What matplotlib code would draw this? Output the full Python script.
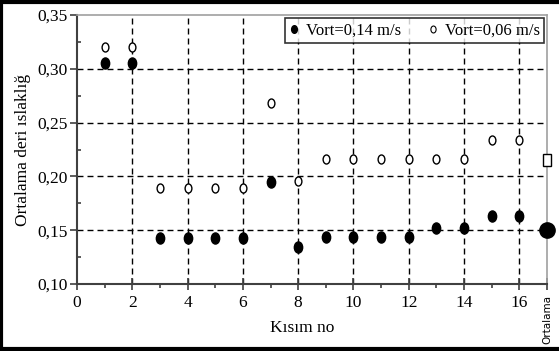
import matplotlib
matplotlib.use("Agg")
import matplotlib.pyplot as plt
from matplotlib.markers import MarkerStyle
from matplotlib.transforms import Affine2D
from matplotlib.lines import Line2D
import numpy as np

# data
kisim = [1, 2, 3, 4, 5, 6, 7, 8, 9, 10, 11, 12, 13, 14, 15, 16]
w_014 = [0.305, 0.305, 0.143, 0.143, 0.143, 0.143, 0.195, 0.134,
         0.144, 0.144, 0.144, 0.144, 0.152, 0.152, 0.163, 0.163]
w_006 = [0.320, 0.320, 0.189, 0.189, 0.189, 0.189, 0.268, 0.196,
         0.216, 0.216, 0.216, 0.216, 0.216, 0.216, 0.234, 0.234]
ort_x = 17
ort_014 = 0.150
ort_006 = 0.215

xticks = [0, 2, 4, 6, 8, 10, 12, 14, 16, 17]
xticklabels = ["0", "2", "4", "6", "8", "10", "12", "14", "16", "Ortalama"]
yticks = [0.10, 0.15, 0.20, 0.25, 0.30, 0.35]
yticklabels = ["0,10", "0,15", "0,20", "0,25", "0,30", "0,35"]

plt.rcParams['font.family'] = ['Liberation Serif', 'DejaVu Serif']

fig = plt.figure(figsize=(5.59, 3.51), dpi=100)
ax = fig.add_axes([77/559, 1 - 284/351, 470/559, 269/351])

ell = MarkerStyle('o', transform=Affine2D().scale(0.75, 1.0))
box = MarkerStyle('s', transform=Affine2D().scale(0.75, 1.0))

# grid (inner lines only)
for v in xticks[1:-1]:
    ax.axvline(v, color='black', lw=1.0, dashes=(4.3, 2.9), zorder=1)
for v in yticks[1:-1]:
    ax.axhline(v, color='black', lw=1.0, dashes=(4.3, 2.9), zorder=1)

ax.plot(kisim, w_014, ls='none', marker=ell, ms=8, color='black', zorder=3)
ax.plot(kisim, w_006, ls='none', marker=ell, ms=6.5, mfc='white', mec='black',
        mew=1.0, zorder=3)
ax.plot([ort_x], [ort_014], ls='none', marker='o', ms=11, color='black',
        zorder=4, clip_on=False)
ax.plot([ort_x], [ort_006], ls='none', marker=box, ms=8.5, mfc='white',
        mec='black', mew=1.0, zorder=4, clip_on=False)

ax.set_xlim(0, 17)
ax.set_ylim(0.10, 0.35)
ax.set_xticks(xticks)
ax.set_xticklabels(xticklabels, fontsize=12.5)
ax.set_xticks(range(1, 17, 2), minor=True)
ax.set_yticks(yticks)
ax.set_yticklabels(yticklabels, fontsize=12.5)
ax.set_yticks(np.arange(0.125, 0.35, 0.05), minor=True)

lab = ax.get_xticklabels()[-1]
lab.set_rotation(90)
lab.set_fontsize(7.5)
lab.set_family('DejaVu Sans')
lab.set_va('top')

ax.tick_params(axis='x', which='major', direction='inout', length=8,
               width=1.2, color='#404040', pad=4)
ax.tick_params(axis='x', which='minor', direction='out', length=3,
               width=1.2, color='#404040')
ax.tick_params(axis='y', which='major', direction='out', length=5,
               width=1.2, color='#404040', pad=2)
ax.tick_params(axis='y', which='minor', direction='in', length=3,
               width=1.2, color='#404040')

for s in ['left', 'bottom']:
    ax.spines[s].set_color('#404040')
    ax.spines[s].set_linewidth(1.5)
for s in ['top', 'right']:
    ax.spines[s].set_color('#a0a0a0')
    ax.spines[s].set_linewidth(1.2)

ax.set_xlabel("Kısım no", fontsize=12.5, labelpad=2)
ax.xaxis.set_label_coords(0.48, -0.135)
ax.set_ylabel("Ortalama deri ıslaklığ", fontsize=12.5, labelpad=4)

handles = [
    Line2D([], [], ls='none', marker=ell, ms=5.5, color='black'),
    Line2D([], [], ls='none', marker=ell, ms=5, mfc='white', mec='black', mew=0.8),
]
leg = ax.legend(handles, ["Vort=0,14 m/s", "Vort=0,06 m/s"], ncol=2,
                loc='upper right', bbox_to_anchor=(0.993, 0.988),
                borderaxespad=0, fontsize=12, frameon=True, fancybox=False,
                handlelength=0.6, handletextpad=0.4, columnspacing=1.6,
                borderpad=0.25)
leg.get_frame().set_edgecolor('black')
leg.get_frame().set_linewidth(1.2)
leg.set_zorder(5)

# black frame on left, top and bottom of the figure
for xs, ys in [([0.002, 0.002], [0, 1]), ([0, 1], [0.995, 0.995]),
               ([0, 1], [0.006, 0.006])]:
    fig.add_artist(Line2D(xs, ys, transform=fig.transFigure, color='black', lw=3))

fig.savefig("out.png", dpi=100)
